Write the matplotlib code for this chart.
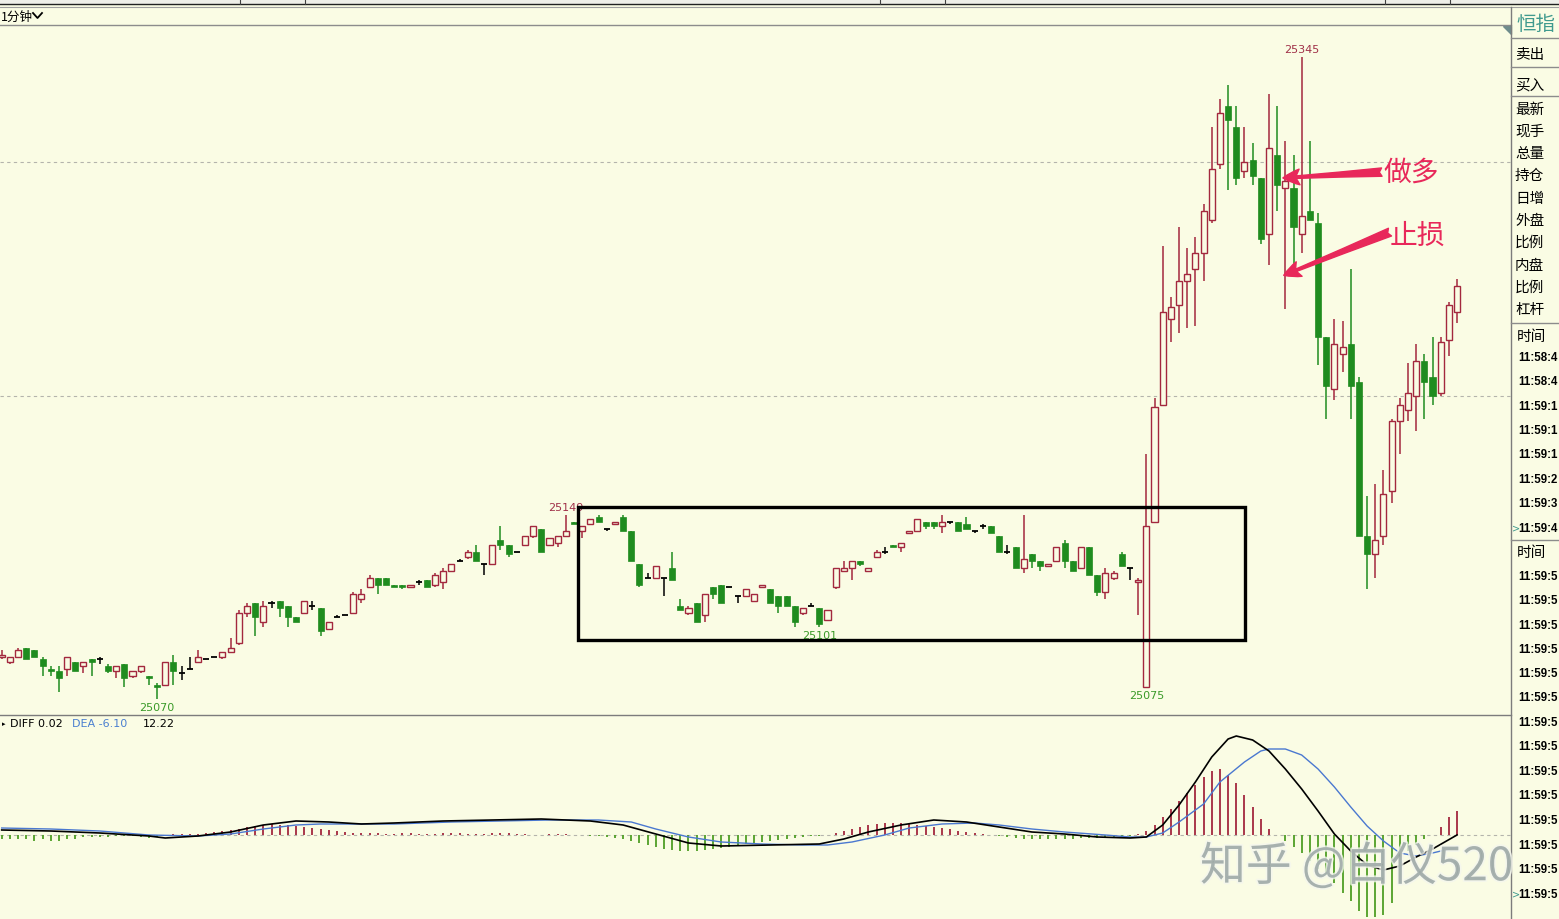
import numpy as np
import matplotlib
matplotlib.use('Agg')
import matplotlib.pyplot as plt
from matplotlib.patches import Rectangle, Polygon
from matplotlib.lines import Line2D
import matplotlib.patheffects as pe

plt.rcParams['font.family'] = ['Noto Sans CJK SC', 'DejaVu Sans']

# ---- 1 minute candles (HSI) ----
opens = [
    25088, 25086, 25088, 25092, 25091, 25087, 25083, 25082, 25083, 25086,
    25084, 25087, 25087, 25084, 25082, 25085, 25080, 25082, 25080, 25076,
    25076, 25086, 25081, 25083, 25086, 25087, 25088, 25088, 25090, 25094,
    25107, 25111, 25103, 25111, 25112, 25110, 25105, 25107, 25110, 25109,
    25100, 25105, 25106, 25107, 25113, 25118, 25122, 25122, 25119, 25119,
    25118, 25120, 25121, 25119, 25120, 25125, 25129, 25131, 25133, 25128,
    25128, 25138, 25136, 25133, 25136, 25140, 25143, 25136, 25137, 25140,
    25146, 25142, 25145, 25148, 25143, 25145, 25148, 25142, 25128, 25122,
    25122, 25122, 25126, 25110, 25107, 25111, 25106, 25118, 25119, 25118,
    25114, 25114, 25112, 25118, 25117, 25114, 25114, 25110, 25107, 25110,
    25109, 25104, 25118, 25125, 25126, 25129, 25125, 25131, 25133, 25136,
    25135, 25141, 25142, 25146, 25146, 25144, 25146, 25146, 25145, 25142,
    25144, 25144, 25140, 25133, 25135, 25126, 25132, 25129, 25127, 25129,
    25137, 25129, 25126, 25135, 25123, 25116, 25122, 25132, 25126, 25120,
    25075, 25146, 25196, 25233, 25239, 25249, 25254, 25261, 25275, 25299,
    25324, 25315, 25296, 25301, 25293, 25269, 25303, 25289, 25289, 25269,
    25279, 25274, 25225, 25203, 25218, 25222, 25206, 25140, 25132, 25140,
    25159, 25189, 25194, 25200, 25215, 25208, 25201, 25224, 25236,
]
highs = [
    25091, 25088, 25092, 25092, 25091, 25088, 25084, 25084, 25088, 25086,
    25086, 25087, 25088, 25085, 25084, 25085, 25082, 25084, 25080, 25077,
    25086, 25089, 25084, 25088, 25091, 25087, 25088, 25090, 25096, 25108,
    25111, 25111, 25112, 25112, 25112, 25110, 25105, 25112, 25112, 25109,
    25103, 25106, 25106, 25116, 25117, 25123, 25122, 25122, 25119, 25119,
    25119, 25121, 25121, 25124, 25126, 25128, 25130, 25134, 25136, 25128,
    25136, 25144, 25136, 25133, 25140, 25144, 25143, 25139, 25140, 25149,
    25146, 25144, 25147, 25149, 25143, 25146, 25149, 25142, 25128, 25124,
    25127, 25122, 25133, 25113, 25110, 25111, 25115, 25118, 25119, 25118,
    25114, 25117, 25115, 25119, 25117, 25114, 25114, 25110, 25109, 25111,
    25109, 25108, 25126, 25129, 25129, 25129, 25126, 25134, 25135, 25136,
    25137, 25142, 25147, 25146, 25146, 25149, 25146, 25146, 25148, 25142,
    25145, 25144, 25140, 25136, 25135, 25149, 25132, 25129, 25128, 25135,
    25138, 25129, 25135, 25135, 25123, 25126, 25125, 25133, 25126, 25122,
    25175, 25199, 25264, 25242, 25272, 25263, 25268, 25282, 25315, 25327,
    25333, 25324, 25315, 25308, 25293, 25329, 25324, 25309, 25303, 25345,
    25309, 25278, 25225, 25233, 25232, 25254, 25208, 25157, 25162, 25168,
    25190, 25199, 25214, 25222, 25218, 25225, 25225, 25240, 25250,
]
lows = [
    25087, 25085, 25088, 25087, 25088, 25080, 25080, 25073, 25080, 25082,
    25081, 25080, 25085, 25081, 25079, 25075, 25079, 25081, 25076, 25070,
    25076, 25076, 25078, 25083, 25086, 25087, 25088, 25087, 25090, 25093,
    25105, 25097, 25101, 25109, 25105, 25101, 25103, 25107, 25108, 25097,
    25100, 25105, 25106, 25107, 25111, 25118, 25115, 25119, 25118, 25117,
    25118, 25119, 25118, 25118, 25117, 25125, 25129, 25130, 25129, 25123,
    25128, 25134, 25131, 25133, 25136, 25139, 25133, 25136, 25135, 25140,
    25145, 25139, 25145, 25146, 25142, 25145, 25142, 25129, 25118, 25122,
    25122, 25114, 25121, 25108, 25106, 25103, 25103, 25113, 25111, 25118,
    25111, 25114, 25112, 25118, 25111, 25107, 25110, 25101, 25106, 25110,
    25101, 25104, 25117, 25125, 25121, 25127, 25125, 25131, 25132, 25135,
    25133, 25141, 25142, 25143, 25143, 25141, 25145, 25142, 25143, 25141,
    25143, 25141, 25133, 25132, 25126, 25124, 25126, 25125, 25127, 25129,
    25126, 25125, 25126, 25123, 25114, 25113, 25121, 25127, 25121, 25106,
    25075, 25146, 25196, 25223, 25227, 25229, 25230, 25249, 25274, 25297,
    25288, 25290, 25293, 25290, 25265, 25256, 25279, 25237, 25255, 25261,
    25275, 25213, 25190, 25198, 25210, 25190, 25140, 25117, 25122, 25136,
    25154, 25175, 25189, 25185, 25190, 25196, 25200, 25217, 25231,
]
closes = [
    25089, 25088, 25091, 25087, 25088, 25084, 25082, 25079, 25088, 25082,
    25086, 25086, 25087, 25082, 25084, 25079, 25082, 25084, 25079, 25075,
    25086, 25082, 25081, 25083, 25088, 25087, 25088, 25090, 25092, 25107,
    25110, 25105, 25110, 25111, 25109, 25105, 25103, 25112, 25110, 25099,
    25103, 25105, 25106, 25115, 25115, 25122, 25119, 25119, 25118, 25118,
    25119, 25120, 25118, 25123, 25125, 25128, 25129, 25133, 25129, 25128,
    25136, 25136, 25132, 25133, 25140, 25144, 25133, 25139, 25140, 25142,
    25145, 25144, 25147, 25146, 25143, 25146, 25142, 25129, 25119, 25122,
    25127, 25122, 25121, 25108, 25109, 25103, 25115, 25115, 25111, 25118,
    25114, 25117, 25115, 25119, 25111, 25110, 25110, 25103, 25109, 25110,
    25102, 25108, 25126, 25126, 25129, 25128, 25126, 25133, 25133, 25135,
    25137, 25142, 25147, 25144, 25144, 25146, 25146, 25142, 25143, 25142,
    25144, 25141, 25133, 25133, 25126, 25130, 25129, 25127, 25128, 25135,
    25129, 25125, 25135, 25123, 25116, 25124, 25124, 25127, 25126, 25121,
    25144, 25195, 25236, 25238, 25249, 25252, 25261, 25279, 25297, 25321,
    25318, 25293, 25300, 25294, 25267, 25306, 25290, 25292, 25272, 25277,
    25275, 25225, 25204, 25222, 25221, 25204, 25140, 25132, 25138, 25158,
    25189, 25196, 25201, 25215, 25206, 25200, 25223, 25239, 25247,
]
high_marks = [69, 159]          # candles whose high is printed
low_marks = [19, 100, 140]      # candles whose low is printed
grid_prices = [25300, 25200]

# ---- MACD panel ----
macd_hist = [
    -2, -2, -2, -2, -3, -2, -3, -3, -2, -2,
    -1, -1, -1, -1, -0.5, -0.5, -0.5, -1, -1.5, -1,
    -0.5, 0.3, 0.3, 0.5, 0.5, 1, 1.5, 2, 2.5, 3,
    4, 4.5, 5, 5.5, 5, 5, 4.5, 4, 3.5, 3,
    2.5, 2, 1.5, 1, 1, 1, 1, 0.5, 0.5, 1,
    1, 0.5, 0.5, 0.5, 1, 1, 1, 0.5, 0.5, 0.5,
    1, 1, 1, 0.5, 0.5, 0, 0, 0.5, 0.5, 0.5,
    0, 0, -0.5, -0.5, -1, -1.5, -2, -3, -4, -5,
    -6, -7, -7.5, -8, -8, -8, -7.5, -7, -6.5, -6,
    -5, -4.5, -4, -3.5, -3, -2.5, -2, -1.5, -1, -0.5,
    -0.5, 0, 1, 2, 3, 4, 5, 5.5, 6, 6,
    6, 5.5, 5, 4.5, 4, 3.5, 3, 2, 1.5, 1,
    0.5, 0, -0.5, -1, -1.5, -2, -2, -2, -2, -2,
    -2, -2, -1.5, -1.5, -1.5, -1, -1, -1, -0.5,
    0.5, 2, 5, 9, 13, 17, 21, 25, 29, 32,
    33, 30, 26, 20, 14, 8, 3, 0, -3, -6,
    -9, -13, -17, -20, -24, -29, -33, -38, -41, -41,
    -40, -34, -20, -8, -5, -2, 0, 4, 9, 12.22,
]
diff_idx = [1, 7, 13, 19, 21, 25, 29, 33, 37, 41, 45, 49, 55, 61, 67, 73, 77, 81,
            85, 89, 95, 101, 104, 107, 111, 115, 119, 123, 127, 131, 135, 139,
            141, 143, 145, 147, 149, 151, 152, 154, 156, 158, 160, 162, 164,
            166, 168, 170, 172, 174, 176, 179]
diff_val = [2.5, 2, 1, -0.5, -1.5, -0.5, 1.5, 5, 7, 6.5, 5.5, 6, 7, 7.5, 8, 7, 5,
            0.5, -4, -5.5, -5, -4.5, -2, 1.5, 5, 7.5, 6.5, 4, 1.5, 0.5, -1, -1.5,
            -1, 5, 15, 26.5, 39, 48, 49.5, 47.5, 42, 33, 23, 12, 0.5, -8, -15,
            -17.5, -15.5, -11, -7, 0.02]
dea_idx = [1, 7, 13, 19, 25, 29, 33, 37, 40, 49, 56, 62, 68, 74, 78, 81, 85, 89,
           94, 99, 102, 105, 109, 112, 116, 120, 123, 127, 131, 136, 139, 141,
           143, 145, 148, 150, 153, 155, 156, 158, 160, 162, 164, 166, 168, 170,
           172, 174, 176, 179]
dea_val = [3.5, 3, 2, 0, -0.5, 0.5, 3, 5, 5.5, 5.5, 6.5, 7, 7.5, 7.5, 6.5, 3, -1,
           -3.5, -4.5, -5, -5, -3.5, 0, 3.5, 5.5, 6, 5, 3, 1.5, 0, -1, -1, 1,
           6.5, 15.5, 26.5, 36.5, 42, 43, 43, 40, 33, 24, 14, 4.5, -3, -9,
           -10.5, -9, -6.1]

side_labels = ['卖出', '买入', '最新', '现手', '总量', '持仓', '日增', '外盘',
               '比例', '内盘', '比例', '杠杆']
side_label_y = [55, 85, 110, 132, 154, 176, 199, 221, 243, 266, 288, 310]
times_a = ['11:58:4', '11:58:4', '11:59:1', '11:59:1', '11:59:1', '11:59:2',
           '11:59:3', '11:59:4']
times_b = ['11:59:5'] * 14

# ---- look ----
W, H = 1559, 920
BG = '#fafce4'
RED = '#a3283e'
GREEN = '#1f8c1f'
MGREEN = '#4f9e25'
LBL_RED = '#a03048'
LBL_GREEN = '#3a9a28'
PINK = '#e8285a'
GRID = '#b4b4ac'


def fx(px):
    return px / W


def fy(py):
    return 1 - py / H


fig = plt.figure(figsize=(W / 100, H / 100), dpi=100, facecolor=BG)

# main price panel: pixel rows 26..716, columns 0..1511
ax = fig.add_axes([0, fy(716), fx(1511), (716 - 26) / H])
ax.set_facecolor(BG)
ax.set_xlim(-0.208, 184.6)
ax.set_ylim(25063.2, 25358.7)
ax.axis('off')

x = np.arange(len(opens))
o, h, l, c = (np.array(v, dtype=float) for v in (opens, highs, lows, closes))
up, dn, eq = c > o, c < o, c == o
bw = 0.74

for gp in grid_prices:
    ax.axhline(gp, color=GRID, lw=0.8, ls=(0, (3, 3)), zorder=0)

ax.vlines(x[dn], l[dn], h[dn], color=GREEN, lw=1.1, zorder=2)
ax.bar(x[dn], o[dn] - c[dn], bottom=c[dn], width=bw, color=GREEN,
       edgecolor=GREEN, lw=0.5, zorder=3)
ax.vlines(x[up], c[up], h[up], color=RED, lw=1.1, zorder=2)
ax.vlines(x[up], l[up], o[up], color=RED, lw=1.1, zorder=2)
ax.bar(x[up], c[up] - o[up], bottom=o[up], width=bw, facecolor=BG,
       edgecolor=RED, lw=1.0, zorder=3)
ax.vlines(x[eq], l[eq], h[eq], color='black', lw=1.1, zorder=2)
ax.hlines(o[eq], x[eq] - bw / 2, x[eq] + bw / 2, color='black', lw=1.3, zorder=3)

for i in high_marks:
    ax.annotate(f'{highs[i]}', (i, highs[i]), xytext=(0, 2), textcoords='offset points',
                ha='center', va='bottom', fontsize=8, color=LBL_RED, family='DejaVu Sans')
for i in low_marks:
    ax.annotate(f'{lows[i]}', (i, lows[i]), xytext=(0, -2), textcoords='offset points',
                ha='center', va='top', fontsize=8, color=LBL_GREEN, family='DejaVu Sans')

# hand drawn consolidation box
ax.add_patch(Rectangle((70.5, 25095.3), 152.1 - 70.5, 25152.3 - 25095.3,
                       fill=False, edgecolor='black', lw=2.4, zorder=6))

# 做多 / 止损 arrows
arrow_kw = dict(arrowstyle='fancy,head_length=0.8,head_width=0.75,tail_width=0.4',
                color=PINK, mutation_scale=15, shrinkA=0, shrinkB=0)
ax.annotate('', xy=(156.7, 25293.2), xytext=(168.8, 25295.7), arrowprops=arrow_kw, zorder=7)
ax.annotate('', xy=(156.8, 25251.5), xytext=(169.8, 25270.0), arrowprops=arrow_kw, zorder=7)
ax.text(172.4, 25295.7, '做多', fontsize=20, color=PINK, ha='center', va='center', zorder=7)
ax.text(173.1, 25268.8, '止损', fontsize=20, color=PINK, ha='center', va='center', zorder=7)

# MACD panel: pixel rows 716..920
ax2 = fig.add_axes([0, 0, fx(1511), 204 / H])
ax2.set_facecolor(BG)
ax2.set_xlim(-0.208, 184.6)
ax2.set_ylim(-42, 60)
ax2.axis('off')
ax2.axhline(0, color=GRID, lw=0.8, ls=(0, (3, 3)), zorder=0)
hist = np.array(macd_hist, dtype=float)
ax2.vlines(x[hist > 0], 0, hist[hist > 0], color=RED, lw=1.3, zorder=2)
ax2.vlines(x[hist < 0], hist[hist < 0], 0, color=MGREEN, lw=1.3, zorder=2)
ax2.plot(np.array(diff_idx) - 1, diff_val, color='black', lw=1.2, zorder=4)
ax2.plot(np.array(dea_idx) - 1, dea_val, color='#4a78d0', lw=1.0, zorder=3)

fig.text(fx(2), fy(724), '▸', fontsize=5, family='DejaVu Sans', va='center')
fig.text(fx(10), fy(724), 'DIFF 0.02', fontsize=8, family='DejaVu Sans', va='center')
fig.text(fx(72), fy(724), 'DEA -6.10', fontsize=8, family='DejaVu Sans', va='center',
         color='#4a7fd0')
fig.text(fx(143), fy(724), '12.22', fontsize=8, family='DejaVu Sans', va='center')


# ---- frame, toolbar, side panel ----
def hline(py, x0, x1, color='#8c8c8c', lw=1.0):
    fig.add_artist(Line2D([fx(x0), fx(x1)], [fy(py), fy(py)], color=color, lw=lw))


def vline(px, y0, y1, color='#8c8c8c', lw=1.0):
    fig.add_artist(Line2D([fx(px), fx(px)], [fy(y0), fy(y1)], color=color, lw=lw))


fig.add_artist(Rectangle((0, fy(5)), 1, 5 / H, transform=fig.transFigure,
                         color='#eeeee8', zorder=0))
hline(5, 0, W, color='#202020', lw=1.0)
hline(8, 0, W, color='#a0a0a0', lw=0.8)
for sx in [240, 305, 880, 945, 1385, 1450]:
    vline(sx, 0, 5, color='#404040', lw=0.8)
hline(26, 0, 1511)
hline(716, 0, 1511, color='#7c7c7c')
vline(1511, 8, H, color='#7c7c7c')
for sy in [39, 68, 97, 324, 541]:
    hline(sy, 1511, W)

fig.text(fx(1), fy(17), '1分钟', fontsize=9, va='center')
fig.add_artist(Line2D([fx(33), fx(37.5), fx(42)], [fy(14), fy(19), fy(14)],
                      color='black', lw=1.3))
fig.add_artist(Polygon([(fx(1503), fy(27)), (fx(1511), fy(27)), (fx(1511), fy(35))],
                       closed=True, transform=fig.transFigure, color='#6f8c8c'))

fig.text(fx(1516), fy(24), '恒指', fontsize=14, color='#3f9a8e', va='center')
for lab, ly in zip(side_labels, side_label_y):
    fig.text(fx(1515), fy(ly), lab, fontsize=10.5, va='center')
fig.text(fx(1517), fy(337), '时间', fontsize=10.5, va='center')
fig.text(fx(1517), fy(553), '时间', fontsize=10.5, va='center')

ya = [358, 382, 407, 431, 455, 480, 504, 529]
yb = [577, 601, 626, 650, 674, 698, 723, 747, 772, 796, 821, 846, 870, 895]
tkw = dict(fontsize=8.3, weight='bold', family='Liberation Sans', va='center')
for t, ty in zip(times_a, ya):
    fig.text(fx(1518), fy(ty), t, **tkw)
for t, ty in zip(times_b, yb):
    fig.text(fx(1518), fy(ty), t, **tkw)
for ty in (ya[-1], yb[-1]):
    fig.text(fx(1512), fy(ty), '>', fontsize=7, color='#3f9a8e', family='DejaVu Sans',
             va='center')

# watermark
fig.text(fx(1200), fy(868), '知乎 @白仪520', fontsize=33, color='#98a4a2', alpha=0.8,
         va='center', zorder=20,
         path_effects=[pe.withStroke(linewidth=2.5, foreground='#f4f6ee')])

fig.savefig('out.png', dpi=100, facecolor=BG)
